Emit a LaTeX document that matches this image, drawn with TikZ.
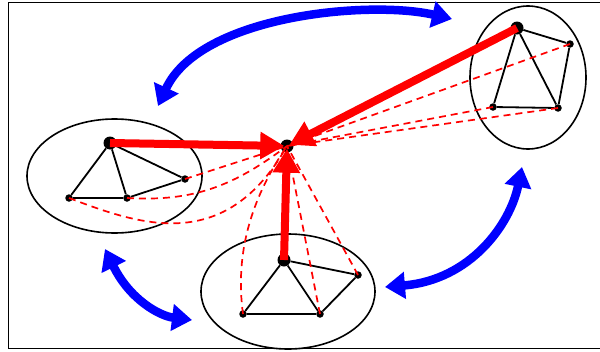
\documentclass[tikz,border=0pt]{standalone}
\usetikzlibrary{arrows.meta}
\begin{document}
\begin{tikzpicture}[x=1pt,y=-1pt,
  dot/.style={circle,fill=black,inner sep=0pt,minimum size=7.5pt},
  bigdot/.style={circle,fill=black,inner sep=0pt,minimum size=13pt},
  edge/.style={line width=1.8pt},
  cl/.style={line width=1.6pt},
  hub/.style={red,line width=8pt,-{Triangle[length=24pt,width=26pt]},shorten >=-4pt},
  reddash/.style={red,line width=1.7pt,dash pattern=on 7pt off 5pt},
  blue2/.style={blue,line width=8.5pt,{Triangle[length=20pt,width=26pt]}-{Triangle[length=20pt,width=26pt]}}]
\useasboundingbox (0,0) rectangle (600,351);
\clip (0,0) rectangle (600,351);
\draw[line width=1.8pt] (8.5,2.5) rectangle (610,348.5);
% ellipses
\draw[cl] (114.5,176) ellipse [x radius=87.5, y radius=57];
\draw[cl] (288,291.5) ellipse [x radius=87, y radius=57.5];
\draw[cl] (528,77.5) ellipse [x radius=58, y radius=71.5];
% nodes
\node[bigdot] (c) at (287,146) {};
\node[bigdot] (L) at (110,143) {};
\node[dot] (L1) at (69,198) {};
\node[dot] (L2) at (127,198) {};
\node[dot] (L3) at (185,179) {};
\node[bigdot] (B) at (284,260) {};
\node[dot] (B1) at (243,314) {};
\node[dot] (B2) at (320,314) {};
\node[dot] (B3) at (358,275) {};
\node[bigdot] (R) at (517,28) {};
\node[dot] (R1) at (570,44) {};
\node[dot] (R2) at (493,107) {};
\node[dot] (R3) at (558,108) {};
% edges
\draw[edge] (L) -- (L1) (L) -- (L2) (L) -- (L3) (L1) -- (L2) (L2) -- (L3);
\draw[edge] (B) -- (B1) (B) -- (B2) (B) -- (B3) (B1) -- (B2) (B2) -- (B3);
\draw[edge] (R) -- (R1) (R) -- (R2) (R) -- (R3) (R2) -- (R3) (R3) -- (R1);
% dashed
\draw[reddash] (L3.center) -- (c.center);
\draw[reddash] (L2.center) .. controls (195,202) and (235,185) .. (c.center);
\draw[reddash] (L1.center) .. controls (140,225) and (225,255) .. (c.center);
\draw[reddash] (B1.center) .. controls (235,255) and (250,200) .. (c.center);
\draw[reddash] (B2.center) -- (c.center);
\draw[reddash] (B3.center) -- (c.center);
\draw[reddash] (R1.center) -- (c.center);
\draw[reddash] (R2.center) -- (c.center);
\draw[reddash] (R3.center) -- (c.center);
% thick red
\draw[hub] (L.center) -- (c);
\draw[hub] (B.center) -- (c);
\draw[hub] (R.center) -- (c);
% blue
\draw[blue2] (158,106) .. controls (200,15) and (370,0) .. (452,19);
\draw[blue2] (105,249) .. controls (130,300) and (160,316) .. (192,320);
\draw[blue2] (385,287) .. controls (470,280) and (510,225) .. (522,167);
\end{tikzpicture}
\end{document}
